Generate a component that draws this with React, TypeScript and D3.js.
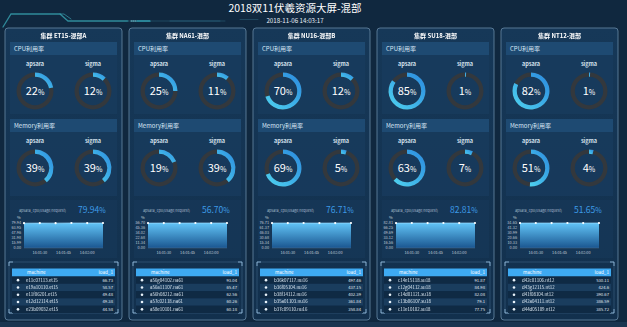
import React from 'react';
import * as d3 from 'd3';

const W = 627;
const H = 327;
const FONT = "'Noto Sans CJK SC', 'Noto Sans', sans-serif";

const pageTitle = '2018双11伏羲资源大屏-混部';
const pageTime = '2018-11-06 14:03:17';

// blurred in the original
const clusterNames = ['集群 ET15-混部A', '集群 NA61-混部', '集群 NU16-混部B', '集群 SU18-混部', '集群 NT12-混部'];

const cpuApsara = [22, 25, 70, 85, 82];
const cpuSigma = [12, 11, 12, 1, 1];
const memApsara = [39, 19, 69, 63, 51];
const memSigma = [39, 39, 5, 7, 4];

const usageNow = [79.94, 56.7, 76.71, 82.81, 51.65];
const sampleTimes = ['14:01:20', '14:01:30', '14:01:40', '14:01:50', '14:02:00', '14:02:10'];
const usage1 = [79.31, 79.62, 79.48, 79.9, 79.8, 79.94];
const usage2 = [56.42, 56.6, 56.51, 56.68, 56.63, 56.7];
const usage3 = [76.55, 76.62, 76.66, 76.4, 76.6, 76.71];
const usage4 = [82.6, 82.75, 82.7, 82.78, 82.72, 82.81];
const usage5 = [51.5, 51.6, 51.58, 51.62, 51.55, 51.65];
const usageSeries = [usage1, usage2, usage3, usage4, usage5];

const machines1 = ['e11c07113.et15', 'e19a10110.et15', 'e11f06201.et15', 'e12d12114.et15', 'e23b09032.et15'];
const machines2 = ['a56g04102.na61', 'a56a11107.na61', 'a56h08212.na61', 'a57c02118.na61', 'a58e10101.na61'];
const machines3 = ['b36k07117.nu16', 'b36f05104.nu16', 'b38f14112.nu16', 'b35a01103.nu16', 'b37c09110.nu16'];
const machines4 = ['c14e15118.su18', 'c12g04112.su18', 'c14d01121.su18', 'c13b06107.su18', 'c11e10102.su18'];
const machines5 = ['d42c01106.nt12', 'd43g12115.nt12', 'd41f08104.nt12', 'd42a04111.nt12', 'd44d05109.nt12'];
const machineNames = [machines1, machines2, machines3, machines4, machines5];

const load1 = [66.73, 58.57, 49.48, 49.38, 44.58];
const load2 = [93.04, 65.47, 62.56, 60.26, 60.18];
const load3 = [497.46, 437.15, 402.39, 361.84, 358.84];
const load4 = [91.87, 84.98, 82.08, 79.1, 77.75];
const load5 = [530.11, 424.6, 390.67, 386.59, 385.72];
const loadValues = [load1, load2, load3, load4, load5];

const panelLeft = [5, 129, 253, 377, 501];
const PW = 117;

const parseTime = d3.timeParse('%H:%M:%S');
const fmtTime = d3.timeFormat('%H:%M:%S');

const Gauge = ({ cx, cy, value, label }) => {
  const rO = 18.5;
  const rI = 14.2;
  const arc = d3.arc();
  const track = arc({ innerRadius: rI, outerRadius: rO, startAngle: 0, endAngle: 2 * Math.PI });
  const prog = arc({ innerRadius: rI, outerRadius: rO, startAngle: 0, endAngle: Math.max(0.02, value / 100 * 2 * Math.PI) });
  return (
    <g>
      <text x={cx} y={cy - 25} textAnchor="middle" fontSize={5.5} fontWeight="bold" fill="#d6e2ee">{label}</text>
      <g transform={`translate(${cx},${cy})`}>
        <path d={track} fill="#33383d" />
        <path d={prog} fill="url(#arcGrad)" />
      </g>
      <text x={cx} y={cy + 4} textAnchor="middle" fill="#ffffff" fontSize={11}>
        {value}<tspan fontSize={7}>%</tspan>
      </text>
    </g>
  );
};

const Section = ({ px, y, h, title }) => (
  <g>
    <rect x={px + 5} y={y} width={PW - 10} height={h} fill="#183b5d" opacity={0.85} />
    <rect x={px + 5} y={y} width={PW - 10} height={13} fill="#1e4a72" />
    <text x={px + 9} y={y + 9} fontSize={6} fill="#d6e6f4">{title}</text>
  </g>
);

const UsageChart = ({ px, i }) => {
  const series = usageSeries[i];
  const pts = series.map((v, k) => ({ t: parseTime(sampleTimes[k]), v }));
  const x = d3.scaleTime().domain(d3.extent(pts, d => d.t)).range([px + 19, px + 98]);
  const maxV = d3.max(series);
  const y = d3.scaleLinear().domain([0, maxV]).range([248, 223]);
  const area = d3.area().x(d => x(d.t)).y0(y(0)).y1(d => y(d.v));
  const line = d3.line().x(d => x(d.t)).y(d => y(d.v));
  const yTicks = d3.range(6).map(k => (maxV * k) / 5);
  const xTicks = x.ticks(d3.timeSecond.every(15));
  return (
    <g>
      <rect x={px + 5} y={200} width={PW - 10} height={58} fill="#17395a" opacity={0.6} />
      <text x={px + 14} y={212} fontSize={3.7} fill="#a9bccd">apsara_cpu(usage/request)</text>
      <text x={px + 73} y={212.5} fontSize={8.5} fill="#3d9be6">
        {usageNow[i].toFixed(2)}<tspan fontSize={7}>%</tspan>
      </text>
      <text x={px + 12} y={219} fontSize={4} fill="#c0ccd8">%</text>
      {yTicks.map((t, k) => (
        <text key={k} x={px + 16} y={y(t) + 1.4} textAnchor="end" fontSize={3.8} fill="#c0ccd8">{t.toFixed(2)}</text>
      ))}
      <path d={area(pts)} fill="url(#areaGrad)" />
      <path d={line(pts)} fill="none" stroke="#9fdcff" strokeWidth={0.7} />
      {pts.map((d, k) => (
        <circle key={k} cx={x(d.t)} cy={y(d.v)} r={1.1} fill="#ffffff" />
      ))}
      <line x1={px + 19} x2={px + 98} y1={248} y2={248} stroke="#5d7a94" strokeWidth={0.4} />
      {xTicks.map((t, k) => (
        <text key={k} x={x(t)} y={254} textAnchor="middle" fontSize={3.8} fill="#c0ccd8">{fmtTime(t)}</text>
      ))}
    </g>
  );
};

const LoadTable = ({ px, i }) => {
  const rowH = 7.3;
  const top = 276.5;
  const corner = (x0, y0, dx, dy, k) => (
    <path key={k} d={`M${x0 + dx},${y0}H${x0}V${y0 + dy}`} fill="none" stroke="#9cc4e4" strokeWidth={0.8} />
  );
  return (
    <g>
      <rect x={px + 4} y={262} width={PW - 8} height={51} fill="none" stroke="#3d6282" strokeWidth={0.6} />
      {corner(px + 4, 262, 4, 4, 'a')}
      {corner(px + PW - 4, 262, -4, 4, 'b')}
      {corner(px + 4, 313, 4, -4, 'c')}
      {corner(px + PW - 4, 313, -4, -4, 'd')}
      <rect x={px + 7} y={268.5} width={PW - 14} height={8} fill="#3eaaf2" />
      <text x={px + 22} y={274.2} fontSize={4.6} fill="#ffffff">machine</text>
      <text x={px + PW - 9} y={274.2} textAnchor="end" fontSize={4.6} fill="#ffffff">load_1</text>
      {loadValues[i].map((v, k) => (
        <g key={k}>
          <rect x={px + 7} y={top + k * rowH} width={PW - 14} height={rowH} fill={k % 2 ? '#1a3d5e' : '#0f2a44'} />
          <circle cx={px + 13} cy={top + k * rowH + rowH / 2} r={1.3} fill="#e8f2fa" />
          <text x={px + 21} y={top + k * rowH + 5} fontSize={4.4} fill="#d8e4ee" filter="url(#pix)">{machineNames[i][k]}</text>
          <text x={px + PW - 9} y={top + k * rowH + 5} textAnchor="end" fontSize={4.2} fill="#e0e8f0">{v}</text>
        </g>
      ))}
    </g>
  );
};

const Panel = ({ i }) => {
  const px = panelLeft[i];
  return (
    <g>
      <rect x={px} y={28} width={PW} height={292} rx={3} fill="url(#panelGrad)" stroke="#5f7f9c" strokeWidth={0.9} />
      <text x={px + PW / 2} y={38} textAnchor="middle" fontSize={6} fontWeight="bold" fill="#ffffff" filter="url(#pix)">{clusterNames[i]}</text>
      <Section px={px} y={42} h={72} title="CPU利用率" />
      <Gauge cx={px + 30} cy={91} value={cpuApsara[i]} label="apsara" />
      <Gauge cx={px + 88} cy={91} value={cpuSigma[i]} label="sigma" />
      <Section px={px} y={119} h={77} title="Memory利用率" />
      <Gauge cx={px + 30} cy={168} value={memApsara[i]} label="apsara" />
      <Gauge cx={px + 88} cy={168} value={memSigma[i]} label="sigma" />
      <UsageChart px={px} i={i} />
      <LoadTable px={px} i={i} />
    </g>
  );
};

export default function App() {
  return (
    <svg width={W} height={H} style={{ position: 'absolute', left: 0, top: 0, display: 'block' }} fontFamily={FONT}>
      <defs>
        <linearGradient id="panelGrad" x1="0" y1="0" x2="0" y2="1">
          <stop offset="0" stopColor="#163858" />
          <stop offset="1" stopColor="#12304d" />
        </linearGradient>
        <linearGradient id="areaGrad" x1="0" y1="0" x2="0" y2="1">
          <stop offset="0" stopColor="#62c4f7" />
          <stop offset="1" stopColor="#1a5690" />
        </linearGradient>
        <linearGradient id="arcGrad" x1="1" y1="0" x2="0" y2="1">
          <stop offset="0" stopColor="#2a88de" />
          <stop offset="1" stopColor="#4fd3f0" />
        </linearGradient>
        <filter id="pix" x="-10%" y="-30%" width="120%" height="160%">
          <feGaussianBlur stdDeviation="0.55" />
        </filter>
      </defs>
      <rect width={W} height={H} fill="#10283f" />
      <rect y={322} width={W} height={5} fill="#1a3550" />
      <g fill="none" strokeLinecap="round">
        <path d="M3,27 L11,14 H60 L68,21 H128" stroke="#2f8a9a" strokeWidth={1.3} />
        <path d="M60,14 L64,14 L71,19" stroke="#3fb0c0" strokeWidth={0.6} />
        <path d="M128,21 H225" stroke="#23506a" strokeWidth={0.8} />
        <path d="M131,21 H136" stroke="#7fdce8" strokeWidth={1} strokeDasharray="1 1" />
        <path d="M137,21 H150" stroke="#3fd0e0" strokeWidth={1.2} />
        <path d="M170,21 H220" stroke="#2c6a84" strokeWidth={0.6} />
        <path d="M240,19.5 H258" stroke="#2c5a74" strokeWidth={0.6} />
      </g>
      <text x={295} y={12} textAnchor="middle" fontSize={10.5} fill="#ffffff">{pageTitle}</text>
      <text x={295} y={23} textAnchor="middle" fontSize={6.2} fill="#e6eef6">{pageTime}</text>
      {panelLeft.map((_, i) => <Panel key={i} i={i} />)}
    </svg>
  );
}
